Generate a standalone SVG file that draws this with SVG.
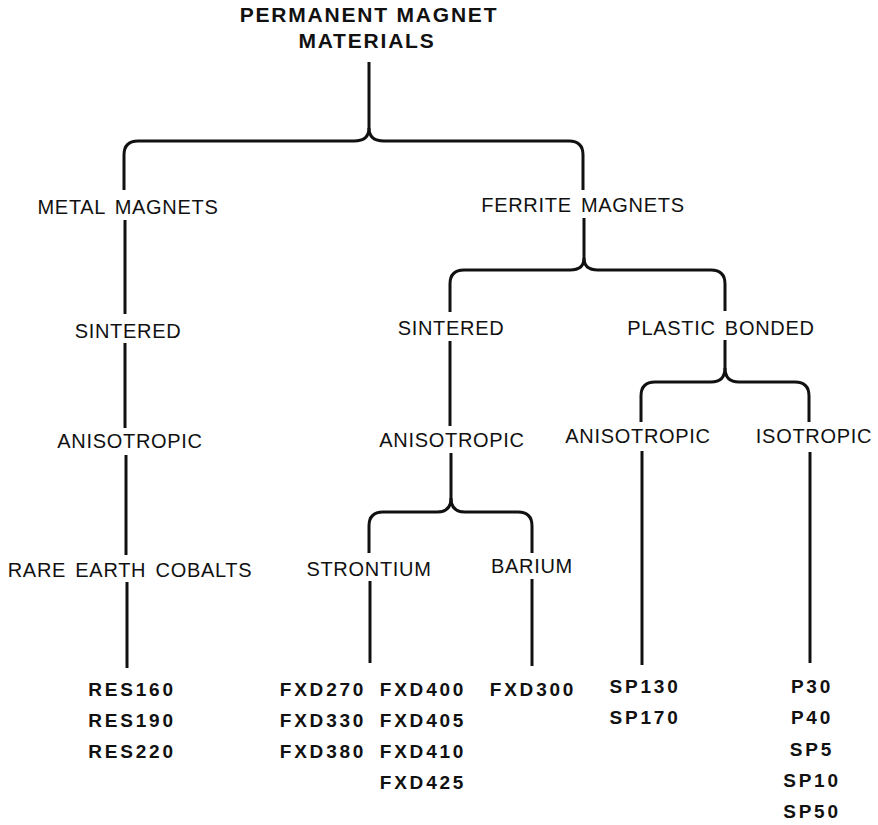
<svg xmlns="http://www.w3.org/2000/svg" width="878" height="825" viewBox="0 0 878 825">
<style>
  text { font-family: "Liberation Sans", Arial, Helvetica, sans-serif; fill: #111; text-anchor: middle; }
  .t { font-size: 21px; font-weight: bold; letter-spacing: 1.8px; }
  .l { font-size: 20px; letter-spacing: 0.7px; word-spacing: 3px; }
  .c { font-size: 19px; font-weight: bold; letter-spacing: 2.8px; }
  .conn path { fill: none; stroke: #111; stroke-width: 3; stroke-linecap: butt; stroke-linejoin: round; }
</style>
<rect width="878" height="825" fill="#ffffff"/>
<g class="conn" id="connectors">
  <path d="M369,62 V128 Q369,141 354,141 H138 Q124,141 124,155 V190"/>
  <path d="M369,128 Q369,141 384,141 H569 Q583,141 583,155 V190"/>
  <path d="M125,220 V314"/>
  <path d="M125,343 V428"/>
  <path d="M126,455 V555"/>
  <path d="M127,582 V668"/>
  <path d="M584,218 V258 Q584,270 570,270 H464 Q450,270 450,284 V312"/>
  <path d="M584,258 Q584,270 598,270 H711 Q725,270 725,284 V311"/>
  <path d="M450,341 V426"/>
  <path d="M451,453 V498 Q451,512 437,512 H383 Q369,512 369,526 V553"/>
  <path d="M451,498 Q451,512 465,512 H518 Q532,512 532,526 V553"/>
  <path d="M370,581 V663"/>
  <path d="M532,579 V666"/>
  <path d="M725,340 V368 Q725,382 711,382 H655 Q641,382 641,396 V422"/>
  <path d="M725,368 Q725,382 739,382 H795 Q809,382 809,396 V422"/>
  <path d="M642,451 V665"/>
  <path d="M810,452 V663"/>
</g>
<g id="root"><text class="t" x="369" y="22">PERMANENT MAGNET</text><text class="t" x="367" y="48">MATERIALS</text></g>
<g id="metal"><text class="l" x="128" y="214">METAL MAGNETS</text></g>
<g id="metal-sintered"><text class="l" x="128" y="338">SINTERED</text></g>
<g id="metal-aniso"><text class="l" x="130" y="448">ANISOTROPIC</text></g>
<g id="rare-earth"><text class="l" x="130" y="577">RARE EARTH COBALTS</text></g>
<g id="res-grades">
  <text class="c" x="132" y="696">RES160</text>
  <text class="c" x="132" y="727">RES190</text>
  <text class="c" x="132" y="758">RES220</text>
</g>
<g id="ferrite"><text class="l" x="583" y="212">FERRITE MAGNETS</text></g>
<g id="ferrite-sintered"><text class="l" x="451" y="335">SINTERED</text></g>
<g id="plastic"><text class="l" x="721" y="335">PLASTIC BONDED</text></g>
<g id="ferrite-aniso"><text class="l" x="452" y="447">ANISOTROPIC</text></g>
<g id="plastic-aniso"><text class="l" x="638" y="443">ANISOTROPIC</text></g>
<g id="plastic-iso"><text class="l" x="814" y="443">ISOTROPIC</text></g>
<g id="strontium"><text class="l" x="369" y="576">STRONTIUM</text></g>
<g id="barium"><text class="l" x="532" y="573">BARIUM</text></g>
<g id="strontium-grades">
  <text class="c" x="323" y="696">FXD270</text>
  <text class="c" x="323" y="727">FXD330</text>
  <text class="c" x="323" y="758">FXD380</text>
  <text class="c" x="423" y="696">FXD400</text>
  <text class="c" x="423" y="727">FXD405</text>
  <text class="c" x="423" y="758">FXD410</text>
  <text class="c" x="423" y="789">FXD425</text>
</g>
<g id="barium-grades"><text class="c" x="533" y="696">FXD300</text></g>
<g id="aniso-grades">
  <text class="c" x="645" y="693">SP130</text>
  <text class="c" x="645" y="724">SP170</text>
</g>
<g id="iso-grades">
  <text class="c" x="812" y="693">P30</text>
  <text class="c" x="812" y="724">P40</text>
  <text class="c" x="812" y="756">SP5</text>
  <text class="c" x="812" y="787">SP10</text>
  <text class="c" x="812" y="818">SP50</text>
</g>
</svg>
